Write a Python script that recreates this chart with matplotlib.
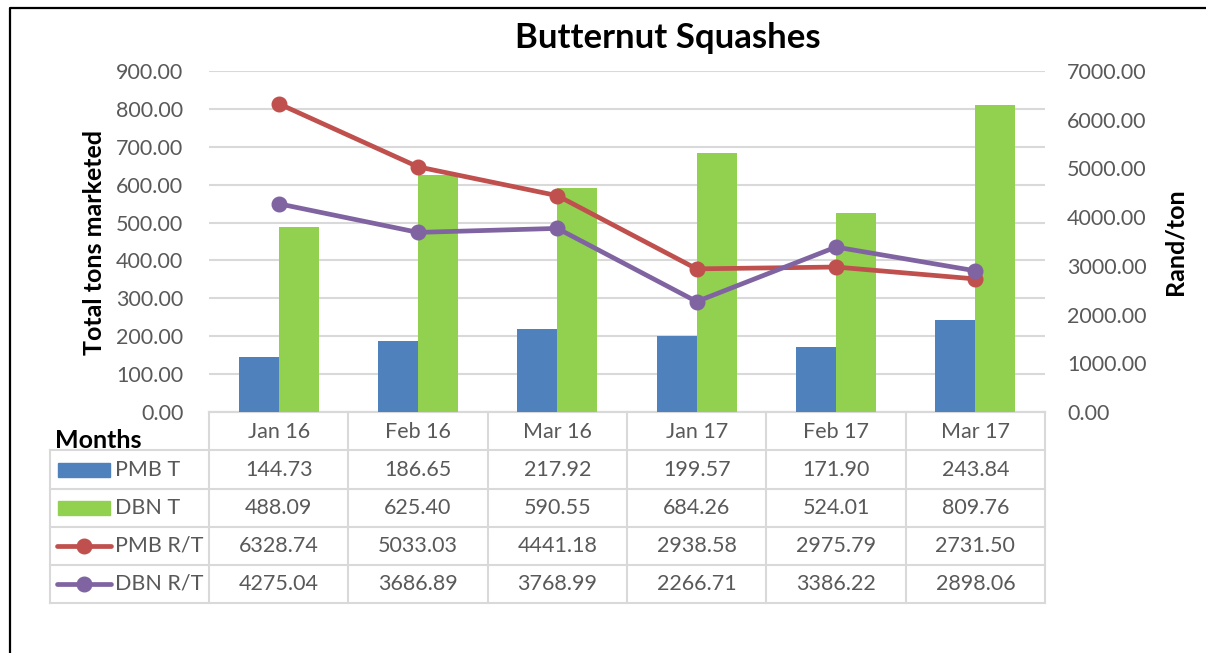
import matplotlib
matplotlib.use("Agg")
import matplotlib.pyplot as plt
from matplotlib.patches import Rectangle
import numpy as np

plt.rcParams['font.family'] = ['Lato', 'DejaVu Sans']

months = ["Jan 16", "Feb 16", "Mar 16", "Jan 17", "Feb 17", "Mar 17"]
pmb_t = [144.73, 186.65, 217.92, 199.57, 171.90, 243.84]
dbn_t = [488.09, 625.40, 590.55, 684.26, 524.01, 809.76]
pmb_rt = [6328.74, 5033.03, 4441.18, 2938.58, 2975.79, 2731.50]
dbn_rt = [4275.04, 3686.89, 3768.99, 2266.71, 3386.22, 2898.06]
left_ticks = np.arange(0, 901, 100)
right_ticks = np.arange(0, 7001, 1000)

C_BLUE = "#4F81BD"
C_GREEN = "#92D050"
C_RED = "#C0504D"
C_PURPLE = "#8064A2"
C_TXT = "#595959"
C_GRID = "#D9D9D9"

W, H = 1206, 653
fig = plt.figure(figsize=(W / 100, H / 100), dpi=100)

# overlay in pixel coordinates
ov = fig.add_axes([0, 0, 1, 1])
ov.set_xlim(0, W)
ov.set_ylim(H, 0)
ov.axis("off")
ov.patch.set_alpha(0)

# plot area
x0, x1 = 209, 1045
y_top, y_bot = 71, 412
ax = fig.add_axes([x0 / W, 1 - y_bot / H, (x1 - x0) / W, (y_bot - y_top) / H])
ax.patch.set_alpha(0)
n = len(months)
x = np.arange(n)
bw = 0.287
ax.bar(x - bw / 2, pmb_t, width=bw, color=C_BLUE, zorder=3)
ax.bar(x + bw / 2, dbn_t, width=bw, color=C_GREEN, zorder=3)
ax.set_xlim(-0.5, n - 0.5)
ax.set_ylim(0, 900)
ax.set_yticks(left_ticks)
ax.set_yticklabels([f"{v:.2f}" for v in left_ticks])
ax.set_xticks([])
ax.yaxis.grid(True, color=C_GRID, lw=1.5, zorder=0)
ax.set_axisbelow(True)
for s in ["left", "right", "top"]:
    ax.spines[s].set_visible(False)
ax.spines["bottom"].set_color(C_GRID)
ax.spines["bottom"].set_linewidth(1.5)
ax.tick_params(axis="y", length=0, pad=18.5, labelsize=15.5, labelcolor=C_TXT)

ax2 = ax.twinx()
ax2.plot(x, pmb_rt, color=C_RED, lw=3.4, marker="o", ms=10.5, zorder=4)
ax2.plot(x, dbn_rt, color=C_PURPLE, lw=3.4, marker="o", ms=10.5, zorder=4)
ax2.set_ylim(0, 7000)
ax2.set_yticks(right_ticks)
ax2.set_yticklabels([f"{v:.2f}" for v in right_ticks])
for s in ["left", "right", "top", "bottom"]:
    ax2.spines[s].set_visible(False)
ax2.tick_params(axis="y", length=0, pad=16, labelsize=15.5, labelcolor=C_TXT)

# titles / labels
fig.text(668 / W, 1 - 38 / H, "Butternut Squashes", ha="center", va="center",
         fontsize=25, fontweight="bold", color="black")
fig.text(95 / W, 1 - 242 / H, "Total tons marketed", ha="center", va="center",
         rotation=90, fontsize=18, fontweight="bold", color="black")
fig.text(1175 / W, 1 - 242 / H, "Rand/ton", ha="center", va="center",
         rotation=90, fontsize=18, fontweight="bold", color="black")

# border
ov.plot([10, 10, W], [H, 8, 8], color="black", lw=1.6, solid_capstyle="butt")

# data table
col_w = (x1 - x0) / n
rows_y = [412, 450, 489, 527, 565, 603]
lx = 50
for yy in rows_y[1:]:
    ov.plot([lx, x1], [yy, yy], color=C_GRID, lw=1.5)
ov.plot([x0, x1], [412, 412], color=C_GRID, lw=1.5)
ov.plot([lx, lx], [450, 603], color=C_GRID, lw=1.5)
for i in range(n + 1):
    xx = x0 + i * col_w
    ov.plot([xx, xx], [412, 603], color=C_GRID, lw=1.5)

ov.text(55, 440, "Months", ha="left", va="center", fontsize=18,
        fontweight="bold", color="black")
for i, m in enumerate(months):
    ov.text(x0 + (i + 0.5) * col_w, 432, m, ha="center", va="center",
            fontsize=15.5, color=C_TXT)

series = [("PMB T", pmb_t, "bar", C_BLUE), ("DBN T", dbn_t, "bar", C_GREEN),
          ("PMB R/T", pmb_rt, "line", C_RED), ("DBN R/T", dbn_rt, "line", C_PURPLE)]
for r, (name, vals, kind, col) in enumerate(series):
    ya, yb = rows_y[r + 1], rows_y[r + 2]
    yc = (ya + yb) / 2
    if kind == "bar":
        ov.add_patch(Rectangle((58, yc - 7), 52, 14, color=col))
    else:
        ov.plot([57, 111], [yc, yc], color=col, lw=3.4, solid_capstyle="round")
        ov.plot([84], [yc], marker="o", ms=10.5, color=col)
    ov.text(115, yc, name, ha="left", va="center", fontsize=15.5, color=C_TXT)
    for i, v in enumerate(vals):
        ov.text(x0 + (i + 0.5) * col_w, yc, f"{v:.2f}", ha="center", va="center",
                fontsize=15.5, color=C_TXT)

fig.savefig("out.png", dpi=100)
